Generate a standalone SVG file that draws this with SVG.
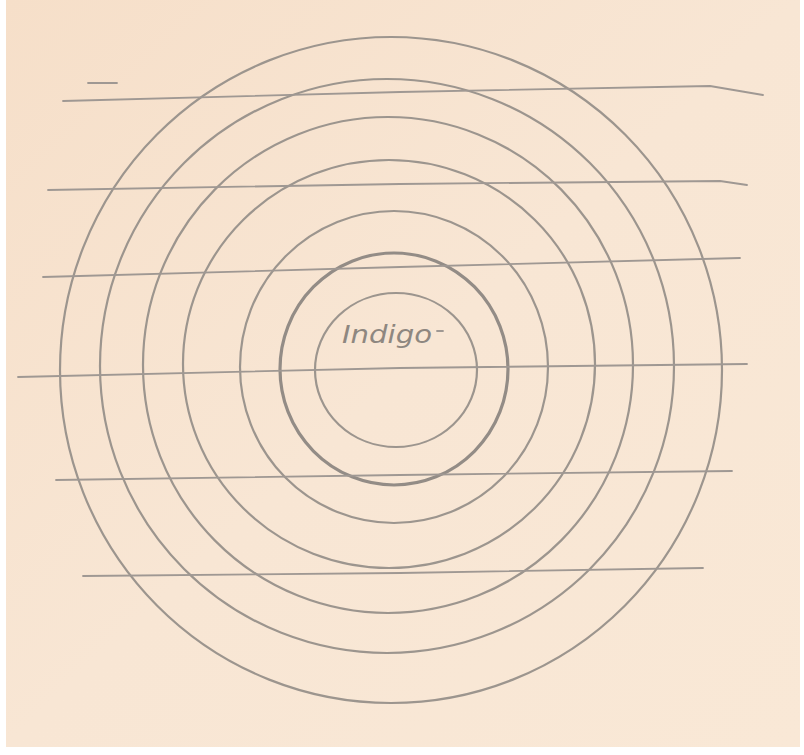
<svg xmlns="http://www.w3.org/2000/svg" width="804" height="755" viewBox="0 0 804 755">
  <defs>
    <linearGradient id="paper" x1="0" y1="0" x2="1" y2="1">
      <stop offset="0" stop-color="#f6dfc9"/>
      <stop offset="0.5" stop-color="#f8e6d4"/>
      <stop offset="1" stop-color="#f9e8d6"/>
    </linearGradient>
  </defs>
  <style>
    .ring { fill: none; stroke: #9c958e; stroke-width: 2.2; stroke-linecap: round; }
    .thick { stroke-width: 3.2; stroke: #938c86; }
    .rule { fill: none; stroke: #9f9893; stroke-width: 1.8; stroke-linecap: round; stroke-linejoin: round; }
    .hand { font-family: "DejaVu Sans", "Liberation Sans", sans-serif; font-style: italic; font-weight: 300; font-size: 24px; fill: #8e8780; }
  </style>
  <rect x="0" y="0" width="804" height="755" fill="#ffffff"/>
  <rect x="6" y="0" width="794" height="747" fill="url(#paper)"/>

  <g id="rings">
    <ellipse id="ring1" class="ring" cx="391" cy="370" rx="331" ry="333"/>
    <ellipse id="ring2" class="ring" cx="387" cy="366" rx="287" ry="287"/>
    <ellipse id="ring3" class="ring" cx="388" cy="365" rx="245" ry="248"/>
    <ellipse id="ring4" class="ring" cx="389" cy="364" rx="206" ry="204"/>
    <ellipse id="ring5" class="ring" cx="394" cy="367" rx="154" ry="156"/>
    <ellipse id="ring6" class="ring thick" cx="394" cy="369" rx="114" ry="116"/>
    <ellipse id="ring7" class="ring" cx="396" cy="370" rx="81" ry="77"/>
  </g>

  <g id="lines">
    <path class="rule" d="M88,83 L117,83"/>
    <path class="rule" d="M63,101 L400,92 L710,86 L763,95"/>
    <path class="rule" d="M48,190 L400,184 L720,181 L747,185"/>
    <path class="rule" d="M43,277 L400,267 L740,258"/>
    <path class="rule" d="M18,377 L400,368 L747,364"/>
    <path class="rule" d="M56,480 L400,475 L732,471"/>
    <path class="rule" d="M83,576 L400,573 L703,568"/>
  </g>

  <g id="label">
    <text class="hand" x="342" y="343" textLength="90" lengthAdjust="spacingAndGlyphs">Indigo</text>
    <path class="rule" d="M437,331 L443,331" stroke-width="1.4"/>
  </g>
</svg>
